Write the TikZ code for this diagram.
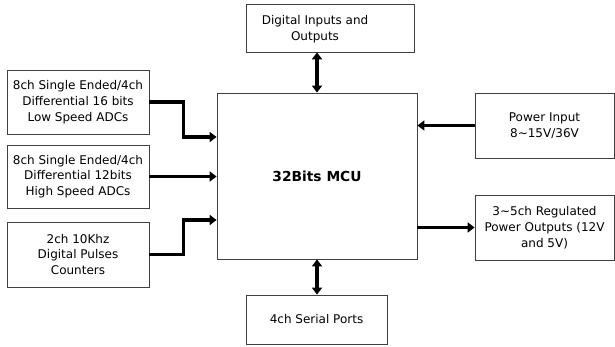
\documentclass[tikz,border=0pt]{standalone}
\usepackage{fontspec}
\setmainfont{DejaVu Sans}
\usetikzlibrary{arrows.meta,calc}
\begin{document}
\begin{tikzpicture}[x=1pt,y=-1pt,
  blk/.style={draw=black!75,line width=0.8pt,fill=white,inner sep=0pt,align=center,
    font=\fontsize{12}{15.8}\selectfont},
  txt/.style={inner sep=0pt,align=center,font=\fontsize{12}{15.8}\selectfont},
  arr/.style={line width=3.2pt,-{Triangle[length=7pt,width=10pt]}},
  darr/.style={line width=3.2pt,{Triangle[length=7pt,width=10pt]}-{Triangle[length=7pt,width=10pt]}}]
\useasboundingbox (0,0) rectangle (615,347);
% MCU
\node[blk,minimum width=200pt,minimum height=166pt,font=\fontsize{13.8}{16}\selectfont\bfseries] (mcu) at (317,176) {32Bits MCU};
% top
\node[blk,minimum width=168pt,minimum height=48pt] (dio) at (330,28) {};
\node[txt] (diot) at (315,29.5) {Digital Inputs and\\Outputs};
% bottom
\node[blk,minimum width=141pt,minimum height=49pt] (sp) at (316.5,319.5) {4ch Serial Ports};
% left
\node[blk,minimum width=142pt,minimum height=64pt] (b1) at (78,102) {8ch Single Ended/4ch\\Differential 16 bits\\Low Speed ADCs};
\node[blk,minimum width=142pt,minimum height=63pt] (b2) at (78,176.5) {8ch Single Ended/4ch\\Differential 12bits\\High Speed ADCs};
\node[blk,minimum width=142pt,minimum height=65pt] (b3) at (78,254.5) {2ch 10Khz\\Digital Pulses\\Counters};
% right
\node[blk,minimum width=139pt,minimum height=65pt] (pin) at (544.5,125.5) {Power Input\\8\char`~15V/36V};
\node[blk,minimum width=139pt,minimum height=65pt] (pout) at (544.5,227.5) {3\char`~5ch Regulated\\Power Outputs (12V\\and 5V)};
% connectors
\draw[arr] (b1.east) -- ++(34,0) |- ($(mcu.west)+(0,-39)$);
\draw[arr] (b2.east) -- (b2.east -| mcu.west);
\draw[arr] (b3.east) -- ++(34,0) |- ($(mcu.west)+(0,44)$);
\draw[arr] (pin.west) -- (pin.west -| mcu.east);
\draw[arr] (pout.west -| mcu.east) -- (pout.west);
\draw[darr] (mcu.north) -- (mcu.north |- dio.south);
\draw[darr] (mcu.south) -- (mcu.south |- sp.north);
\end{tikzpicture}
\end{document}
